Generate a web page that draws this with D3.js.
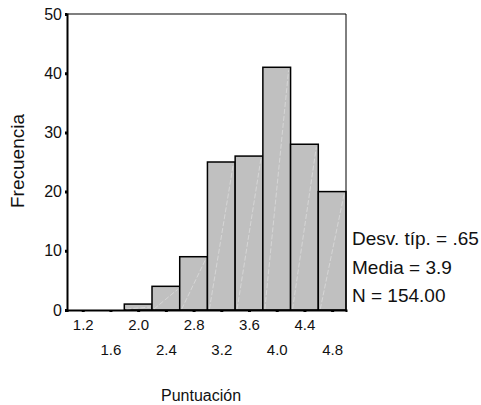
<!DOCTYPE html>
<html>
<head>
<meta charset="utf-8">
<script src="https://cdn.jsdelivr.net/npm/d3@7"></script>
<style>
  body { margin: 0; background: #fff; }
  text { font-family: Arial, "Liberation Sans", sans-serif; fill: #111; }
</style>
</head>
<body>
<svg id="mainsvg" width="481" height="405"></svg>
<script>
// histogram bins (centres) and counts
const binCenters = [1.2, 1.6, 2.0, 2.4, 2.8, 3.2, 3.6, 4.0, 4.4, 4.8];
const counts = [0, 0, 1, 4, 9, 25, 26, 41, 28, 20];
const binWidth = 0.4;
const yTicks = [0, 10, 20, 30, 40, 50];
const statLines = ['Desv. típ. = .65', 'Media = 3.9', 'N = 154.00'];

const svg = d3.select('#mainsvg');
const margin = {top: 14, left: 67, right: 135, bottom: 95};
const width = +svg.attr('width');
const height = +svg.attr('height');
const innerWidth = width - margin.left - margin.right;   // 279
const innerHeight = height - margin.top - margin.bottom; // 296
const font = 'Arial, "Liberation Sans", sans-serif';

const g = svg.append('g')
  .attr('transform', `translate(${margin.left}, ${margin.top})`);

const xScale = d3.scaleLinear().domain([0.973, 5.0]).range([0, innerWidth]);
const yScale = d3.scaleLinear().domain([0, 50]).range([innerHeight, 0]);

// bars
const bins = binCenters.map((c, i) => ({c, n: counts[i]})).filter(d => d.n > 0);
g.selectAll('rect.bar').data(bins).join('rect')
  .attr('class', 'bar')
  .attr('x', d => xScale(d.c - binWidth / 2))
  .attr('width', d => xScale(d.c + binWidth / 2) - xScale(d.c - binWidth / 2))
  .attr('y', d => yScale(d.n))
  .attr('height', d => yScale(0) - yScale(d.n))
  .attr('fill', '#c0c0c0')
  .attr('stroke', '#000')
  .attr('stroke-width', 1.5);

// faint diagonal streak inside each bar
g.selectAll('line.streak').data(bins).join('line')
  .attr('class', 'streak')
  .attr('x1', d => xScale(d.c - binWidth / 2) + 2)
  .attr('y1', yScale(0) - 1)
  .attr('x2', d => xScale(d.c + binWidth / 2) - 2)
  .attr('y2', d => yScale(d.n) + 3)
  .attr('stroke', '#dadada')
  .attr('stroke-width', 0.8)
  .attr('stroke-dasharray', '5,2');

// frame: top and right
g.append('line').attr('x1', 0).attr('x2', innerWidth).attr('y1', 0).attr('y2', 0)
  .attr('stroke', '#555').attr('stroke-width', 1.6);
g.append('line').attr('x1', innerWidth).attr('x2', innerWidth).attr('y1', 0).attr('y2', innerHeight)
  .attr('stroke', '#000').attr('stroke-width', 1);

// y axis
const yAxis = d3.axisLeft(yScale).tickValues(yTicks).tickSize(2).tickPadding(3);
const yg = g.append('g').call(yAxis);
yg.select('.domain').attr('stroke', '#000').attr('stroke-width', 2);
yg.selectAll('.tick line').attr('stroke-width', 3);
yg.selectAll('.tick text').attr('font-size', 16).attr('font-family', font).attr('fill', '#111');

// x axis, labels alternate on two rows
const xAxis = d3.axisBottom(xScale).tickValues(binCenters).tickSize(2).tickFormat(d3.format('.1f'));
const xg = g.append('g').attr('transform', `translate(0, ${innerHeight})`).call(xAxis);
xg.select('.domain').attr('stroke', '#000').attr('stroke-width', 2);
xg.selectAll('.tick line').attr('stroke-width', 3).attr('y1', 1);
xg.selectAll('.tick text')
  .attr('font-size', 15).attr('font-family', font).attr('fill', '#111')
  .attr('dy', null)
  .attr('y', (d, i) => i % 2 === 0 ? 20 : 45);

// axis titles
svg.append('text')
  .attr('transform', 'translate(24, 161) rotate(-90)')
  .attr('text-anchor', 'middle')
  .attr('font-size', 19)
  .text('Frecuencia');
svg.append('text')
  .attr('x', 201).attr('y', 401)
  .attr('text-anchor', 'middle')
  .attr('font-size', 16)
  .text('Puntuación');

// statistics
svg.selectAll('text.stat').data(statLines).join('text')
  .attr('class', 'stat')
  .attr('x', 352)
  .attr('y', (d, i) => 245 + i * 28.5)
  .attr('font-size', 19)
  .text(d => d);
</script>
</body>
</html>
